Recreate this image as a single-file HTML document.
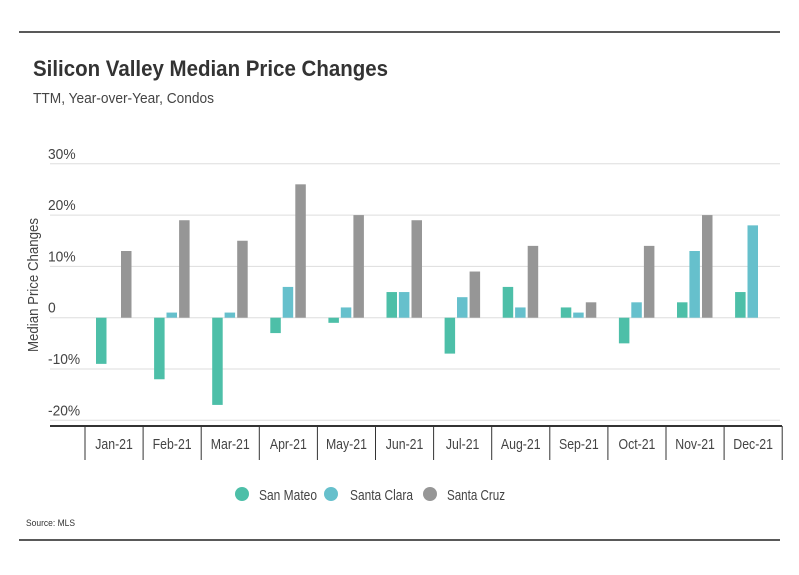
<!DOCTYPE html>
<html><head><meta charset="utf-8"><style>
body{margin:0;background:#fff}
svg{display:block;font-family:"Liberation Sans",sans-serif}
</style></head><body>
<svg id="chart" width="799" height="575" viewBox="0 0 799 575">
<line x1="19" y1="32" x2="780" y2="32" stroke="#222" stroke-width="1.5"/>
<text x="33" y="76" font-size="22" font-weight="bold" fill="#333" textLength="355" lengthAdjust="spacingAndGlyphs">Silicon Valley Median Price Changes</text>
<text x="33" y="103" font-size="15" fill="#444" textLength="181" lengthAdjust="spacingAndGlyphs">TTM, Year-over-Year, Condos</text>
<text transform="translate(38,285) rotate(-90)" text-anchor="middle" font-size="15" fill="#444" textLength="134" lengthAdjust="spacingAndGlyphs">Median Price Changes</text>
<g id="grid"></g><g id="bars"></g><g id="xaxis"></g>
<circle cx="242" cy="494" r="7" fill="#4dbfa8"/>
<text x="259" y="500" font-size="15" fill="#444" textLength="58" lengthAdjust="spacingAndGlyphs">San Mateo</text>
<circle cx="331" cy="494" r="7" fill="#66c0cc"/>
<text x="350" y="500" font-size="15" fill="#444" textLength="63" lengthAdjust="spacingAndGlyphs">Santa Clara</text>
<circle cx="430" cy="494" r="7" fill="#969696"/>
<text x="447" y="500" font-size="15" fill="#444" textLength="58" lengthAdjust="spacingAndGlyphs">Santa Cruz</text>
<text x="26" y="526" font-size="9" fill="#333" textLength="49" lengthAdjust="spacingAndGlyphs">Source: MLS</text>
<line x1="19" y1="540" x2="780" y2="540" stroke="#222" stroke-width="1.5"/>
</svg>
<script>
const categories=["Jan-21","Feb-21","Mar-21","Apr-21","May-21","Jun-21","Jul-21","Aug-21","Sep-21","Oct-21","Nov-21","Dec-21"];
const sanMateo=[-9,-12,-17,-3,-1,5,-7,6,2,-5,3,5];
const santaClara=[0,1,1,6,2,5,4,2,1,3,13,18];
const santaCruz=[13,19,15,26,20,19,9,14,3,14,20,0];
const yTicks=[30,20,10,0,-10,-20];
const yTickLabels=["30%","20%","10%","0","-10%","-20%"];
const NS="http://www.w3.org/2000/svg";
const y=v=>317.7-v*5.13;
const x0=85,band=58.1;
const bx=i=>x0+i*band;
function mk(tag,attrs,parent){const e=document.createElementNS(NS,tag);for(const k in attrs)e.setAttribute(k,attrs[k]);parent.appendChild(e);return e;}
function condense(t,f){const w=t.getComputedTextLength();t.setAttribute('textLength',(w*f).toFixed(1));t.setAttribute('lengthAdjust','spacingAndGlyphs');}
const grid=document.getElementById('grid'),bars=document.getElementById('bars'),xa=document.getElementById('xaxis');
yTicks.forEach((t,i)=>{
  const l=mk('line',{x1:50,x2:780,y1:y(t),y2:y(t),stroke:'#ddd','stroke-width':1},grid);
  
  
  const tx=mk('text',{x:48,y:y(t)-5,'font-size':15,fill:'#444'},grid);
  tx.textContent=yTickLabels[i];
  
  
  condense(tx,0.92);
});
const series=[[sanMateo,'#4dbfa8',11,'san-mateo'],[santaClara,'#66c0cc',23.4,'santa-clara'],[santaCruz,'#969696',36,'santa-cruz']];
series.forEach(([vals,col,off,nm])=>{
  vals.forEach((v,i)=>{
    const top=Math.min(y(v),y(0)),h=Math.abs(y(v)-y(0));
    const r=mk('rect',{x:bx(i)+off,y:top,width:10.5,height:h,fill:col},bars);
    
    
  });
});
const ax=mk('line',{x1:50,x2:782,y1:426,y2:426,stroke:'#333','stroke-width':2},xa);


for(let i=0;i<=categories.length;i++){
  const t=mk('line',{x1:bx(i),x2:bx(i),y1:426,y2:460,stroke:'#333','stroke-width':1},xa);
  
  
}
categories.forEach((c,i)=>{
  const t=mk('text',{x:bx(i)+band/2,y:449,'text-anchor':'middle','font-size':15,fill:'#444'},xa);
  t.textContent=c;
  
  
  condense(t,0.82);
});
</script>
</body></html>
